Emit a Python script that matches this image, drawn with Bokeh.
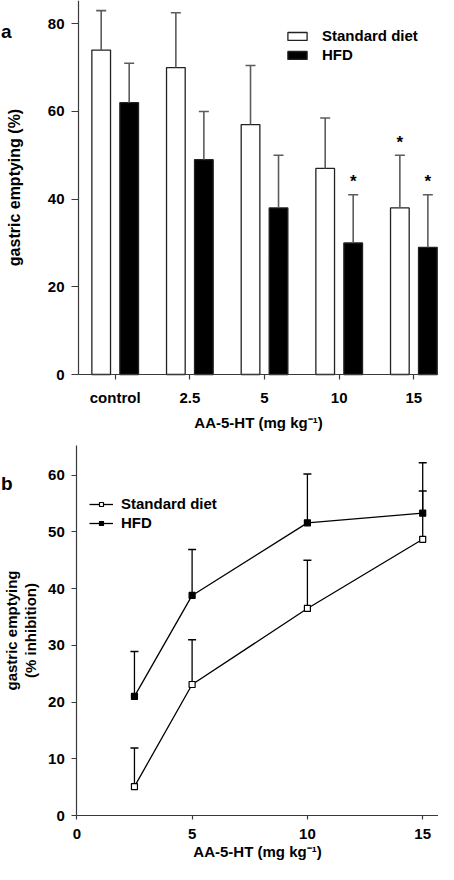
from bokeh.plotting import figure
from bokeh.layouts import column
from bokeh.models import Range1d, FixedTicker, Legend, LegendItem, Label, ColumnDataSource
from bokeh.transform import dodge
from bokeh.core.properties import value
from bokeh.embed import file_html
from bokeh.resources import INLINE

FONT = "Liberation Sans"

# ---- Panel a data (gastric emptying, %) ----
categories = ["control", "2.5", "5", "10", "15"]
std_mean = [74, 70, 57, 47, 38]
std_sem = [9.0, 12.5, 13.5, 11.5, 12.0]
hfd_mean = [62, 49, 38, 30, 29]
hfd_sem = [9.0, 11.0, 12.0, 11.0, 12.0]
std_sig = [False, False, False, False, True]
hfd_sig = [False, False, False, True, True]
yticks_a = [0, 20, 40, 60, 80]

# ---- Panel b data (gastric emptying, % inhibition) ----
dose = [2.5, 5, 10, 15]
std_inh = [5.1, 23.1, 36.5, 48.7]
std_inh_sem = [6.8, 7.9, 8.5, 8.5]
hfd_inh = [21.0, 38.8, 51.6, 53.3]
hfd_inh_sem = [7.9, 8.1, 8.6, 8.9]
xticks_b = [0, 5, 10, 15]
yticks_b = [0, 10, 20, 30, 40, 50, 60]

AXIS_COLOR = "#3a3a3a"
ERR_A = "#5c5c5c"

W = 438
HA = 436
HB = 428


def style(p):
    p.xgrid.visible = False
    p.ygrid.visible = False
    p.outline_line_color = None
    p.background_fill_color = "white"
    p.border_fill_color = "white"
    for ax in (p.xaxis[0], p.yaxis[0]):
        ax.axis_line_color = AXIS_COLOR
        ax.axis_line_width = 1.2
        ax.major_tick_line_color = AXIS_COLOR
        ax.major_tick_line_width = 1.2
        ax.major_tick_in = 0
        ax.minor_tick_line_color = None
        ax.major_label_text_font = FONT
        ax.major_label_text_font_style = "bold"
        ax.major_label_text_font_size = "15px"
        ax.major_label_text_color = "black"
        ax.axis_label_text_font = FONT
        ax.axis_label_text_font_style = "bold"
        ax.axis_label_text_font_size = "15px"
        ax.axis_label_text_color = "black"


# ================= Panel a =================
xa = list(range(1, len(categories) + 1))
src_a = ColumnDataSource(dict(
    x=xa,
    std=std_mean,
    hfd=hfd_mean,
    std_top=[m + e for m, e in zip(std_mean, std_sem)],
    hfd_top=[m + e for m, e in zip(hfd_mean, hfd_sem)],
))

# frame covers the whole canvas; axes are pinned inside it
AX0, AX1 = -0.536, 5.330      # x-range (category units)
AY0, AY1 = -14.14, 85.31      # y-range (%)
A_YAXIS_AT = 0.5085           # x where the y axis sits

pa = figure(width=W, height=HA, output_backend="svg", toolbar_location=None,
            x_range=Range1d(AX0, AX1), y_range=Range1d(AY0, AY1),
            min_border_left=0, min_border_right=0, min_border_top=0, min_border_bottom=0)
style(pa)

OFF = 0.1875
BW = 0.25
r_std = pa.vbar(x=dodge("x", -OFF), top="std", width=BW, source=src_a,
                fill_color="white", line_color="#222222", line_width=1.3)
r_hfd = pa.vbar(x=dodge("x", OFF), top="hfd", width=BW, source=src_a,
                fill_color="black", line_color="#222222", line_width=1.3)

for col, topcol, off in (("std", "std_top", -OFF), ("hfd", "hfd_top", OFF)):
    pa.segment(x0=dodge("x", off), y0=col, x1=dodge("x", off), y1=topcol, source=src_a,
               line_color=ERR_A, line_width=1.6)
    pa.scatter(x=dodge("x", off), y=topcol, source=src_a, marker="dash", size=10,
               line_color=ERR_A, line_width=1.6)

sig_x, sig_y = [], []
for xi, m, e, s in zip(xa, std_mean, std_sem, std_sig):
    if s:
        sig_x.append(xi - OFF); sig_y.append(m + e)
for xi, m, e, s in zip(xa, hfd_mean, hfd_sem, hfd_sig):
    if s:
        sig_x.append(xi + OFF); sig_y.append(m + e)
pa.text(x=sig_x, y=sig_y, text=["*"] * len(sig_x), text_font=value(FONT),
        text_font_style="bold", text_font_size="17px", text_align="center",
        text_baseline="alphabetic", y_offset=-13, text_color="black")

pa.xaxis.fixed_location = 0
pa.xaxis.bounds = (A_YAXIS_AT, AX1)
pa.xaxis.ticker = FixedTicker(ticks=xa)
pa.xaxis.major_label_overrides = {xi: c for xi, c in zip(xa, categories)}
pa.xaxis.major_tick_out = 5
pa.xaxis.major_label_standoff = 9
pa.xaxis.axis_label = "AA-5-HT (mg kg\u207b\u00b9)"
pa.xaxis.axis_label_standoff = 5

pa.yaxis.fixed_location = A_YAXIS_AT
pa.yaxis.bounds = (0, AY1)
pa.yaxis.ticker = FixedTicker(ticks=yticks_a)
pa.yaxis.major_tick_out = 7
pa.yaxis.major_label_standoff = 7
pa.yaxis.axis_label = "gastric emptying (%)"
pa.yaxis.axis_label_text_font_size = "16px"
pa.yaxis.axis_label_standoff = 22

leg_a = Legend(items=[LegendItem(label="Standard diet", renderers=[r_std]),
                      LegendItem(label="HFD", renderers=[r_hfd])],
               location=(285, 373), orientation="vertical",
               glyph_width=24, glyph_height=10, label_height=16, spacing=2,
               label_standoff=13, padding=0, margin=0,
               border_line_color=None, background_fill_alpha=0,
               label_text_font=FONT, label_text_font_style="bold",
               label_text_font_size="15px", label_text_color="black")
pa.add_layout(leg_a)

pa.add_layout(Label(x=0.5, y=HA - 31, x_units="screen", y_units="screen", text="a",
                    text_font=FONT, text_font_style="bold", text_font_size="19px",
                    text_color="black", text_baseline="alphabetic"))

# ================= Panel b =================
src_std = ColumnDataSource(dict(x=dose, y=std_inh,
                                top=[m + e for m, e in zip(std_inh, std_inh_sem)]))
src_hfd = ColumnDataSource(dict(x=dose, y=hfd_inh,
                                top=[m + e for m, e in zip(hfd_inh, hfd_inh_sem)]))

BX0, BX1 = -3.309, 15.685
BY0, BY1 = -8.639, 66.82
B_YTOP = 65.24

pb = figure(width=W, height=HB, output_backend="svg", toolbar_location=None,
            x_range=Range1d(BX0, BX1), y_range=Range1d(BY0, BY1),
            min_border_left=0, min_border_right=0, min_border_top=0, min_border_bottom=0)
style(pb)

for src in (src_std, src_hfd):
    pb.segment(x0="x", y0="y", x1="x", y1="top", source=src, line_color="black", line_width=1.3)
    pb.scatter(x="x", y="top", source=src, marker="dash", size=8, line_color="black", line_width=1.5)

l_std = pb.line(x="x", y="y", source=src_std, line_color="black", line_width=1.3)
l_hfd = pb.line(x="x", y="y", source=src_hfd, line_color="black", line_width=1.3)
m_std = pb.scatter(x="x", y="y", source=src_std, marker="square", size=6,
                   fill_color="white", line_color="black", line_width=1.2)
m_hfd = pb.scatter(x="x", y="y", source=src_hfd, marker="square", size=6,
                   fill_color="black", line_color="black", line_width=1.2)

pb.xaxis.fixed_location = 0
pb.xaxis.bounds = (0, BX1)
pb.xaxis.ticker = FixedTicker(ticks=xticks_b)
pb.xaxis.major_tick_out = 4
pb.xaxis.major_label_standoff = 9
pb.xaxis.axis_label = "AA-5-HT (mg kg\u207b\u00b9)"
pb.xaxis.axis_label_standoff = 1

pb.yaxis.fixed_location = 0
pb.yaxis.bounds = (0, B_YTOP)
pb.yaxis.ticker = FixedTicker(ticks=yticks_b)
pb.yaxis.major_tick_out = 5
pb.yaxis.major_label_standoff = 7
pb.yaxis.axis_label = "gastric emptying\n(% inhibition)"
pb.yaxis.axis_label_text_line_height = 1.1
pb.yaxis.axis_label_standoff = 6

leg_b = Legend(items=[LegendItem(label="Standard diet", renderers=[l_std, m_std]),
                      LegendItem(label="HFD", renderers=[l_hfd, m_hfd])],
               location=(89, 333), orientation="vertical",
               glyph_width=24, glyph_height=10, label_height=16, spacing=2,
               label_standoff=8, padding=0, margin=0,
               border_line_color=None, background_fill_alpha=0,
               label_text_font=FONT, label_text_font_style="bold",
               label_text_font_size="15px", label_text_color="black")
pb.add_layout(leg_b)

pb.add_layout(Label(x=0.5, y=HB - 47, x_units="screen", y_units="screen", text="b",
                    text_font=FONT, text_font_style="bold", text_font_size="19px",
                    text_color="black", text_baseline="alphabetic"))

layout = column(pa, pb, spacing=0)
open("out.html", "w").write(file_html(layout, INLINE))
